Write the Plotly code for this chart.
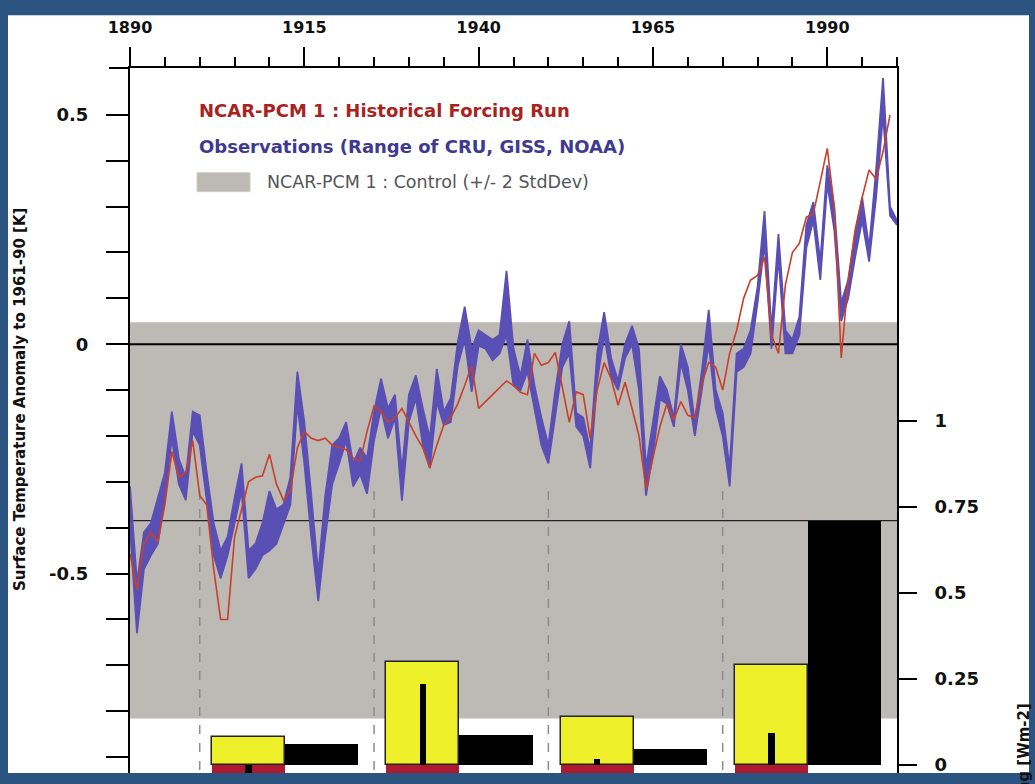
import plotly.graph_objects as go

# ---------------- data ----------------
obs_years = list(range(1890, 2001))
obs_hi = [-0.31, -0.52, -0.41, -0.39, -0.335, -0.28, -0.147, -0.25, -0.29, -0.147,
          -0.155, -0.28, -0.39, -0.45, -0.42, -0.335, -0.26, -0.45, -0.435, -0.39,
          -0.32, -0.36, -0.35, -0.29, -0.06, -0.17, -0.33, -0.50, -0.33, -0.22,
          -0.205, -0.17, -0.26, -0.226, -0.248, -0.147, -0.075, -0.14, -0.11, -0.277,
          -0.11, -0.068, -0.14, -0.205, -0.054, -0.147, -0.118, 0.004, 0.082, -0.011,
          0.03, 0.02, 0.01, 0.02, 0.16, -0.01, -0.07, 0.01, -0.09, -0.16,
          -0.22, -0.10, 0.0, 0.05, -0.15, -0.16, -0.23, -0.02, 0.07, -0.03,
          -0.08, 0.0, 0.04, -0.01, -0.27, -0.17, -0.07, -0.10, -0.16, 0.0,
          -0.05, -0.17, -0.06, 0.075, -0.10, -0.15, -0.27, -0.02, -0.01, 0.03,
          0.125, 0.29, 0.03, 0.24, 0.03, 0.01, 0.06, 0.26, 0.31, 0.18,
          0.39, 0.30, 0.09, 0.14, 0.24, 0.32, 0.21, 0.38, 0.58, 0.30, 0.27]
obs_lo = [-0.40, -0.63, -0.49, -0.46, -0.435, -0.335, -0.205, -0.305, -0.34, -0.19,
          -0.22, -0.335, -0.46, -0.51, -0.46, -0.39, -0.32, -0.51, -0.49, -0.46,
          -0.45, -0.435, -0.39, -0.35, -0.13, -0.26, -0.42, -0.56, -0.42, -0.305,
          -0.26, -0.21, -0.31, -0.283, -0.326, -0.21, -0.14, -0.205, -0.16, -0.341,
          -0.169, -0.118, -0.22, -0.27, -0.126, -0.176, -0.17, -0.047, 0.01, -0.104,
          -0.003, -0.01, -0.035, -0.02, 0.02, -0.09, -0.10, -0.06, -0.14, -0.22,
          -0.26, -0.15, -0.05, -0.02, -0.18, -0.20, -0.27, -0.08, 0.02, -0.07,
          -0.10, -0.03, 0.0, -0.10, -0.33, -0.24, -0.12, -0.13, -0.18, -0.04,
          -0.10, -0.20, -0.10, 0.0, -0.14, -0.20, -0.31, -0.06, -0.05, -0.02,
          0.09, 0.22, -0.01, 0.19, -0.02, -0.02, 0.02, 0.21, 0.27, 0.14,
          0.35, 0.25, 0.05, 0.10, 0.19, 0.27, 0.18, 0.32, 0.50, 0.28, 0.26]

model_years = list(range(1890, 2000))
model_run = [-0.456, -0.535, -0.435, -0.41, -0.43, -0.35, -0.234, -0.29, -0.28, -0.21,
             -0.33, -0.35, -0.49, -0.60, -0.60, -0.42, -0.36, -0.30, -0.29, -0.287,
             -0.24, -0.305, -0.34, -0.32, -0.226, -0.19, -0.205, -0.21, -0.205, -0.22,
             -0.225, -0.23, -0.248, -0.255, -0.19, -0.135, -0.147, -0.17, -0.16, -0.14,
             -0.17, -0.20, -0.226, -0.27, -0.22, -0.176, -0.16, -0.13, -0.09, -0.047,
             -0.14, -0.126, -0.11, -0.095, -0.08, -0.09, -0.105, -0.11, -0.02, -0.046,
             -0.04, -0.018, -0.097, -0.17, -0.104, -0.11, -0.205, -0.10, -0.04, -0.075,
             -0.133, -0.083, -0.14, -0.20, -0.315, -0.25, -0.18, -0.13, -0.165, -0.125,
             -0.155, -0.16, -0.085, -0.04, -0.05, -0.10, -0.02, 0.03, 0.10, 0.14,
             0.15, 0.19, 0.02, -0.02, 0.13, 0.20, 0.22, 0.277, 0.284, 0.355,
             0.427, 0.30, -0.03, 0.14, 0.25, 0.32, 0.38, 0.36, 0.42, 0.50]

control_low, control_high = -0.816, 0.048

period_starts = [1900, 1925, 1950, 1975]
forcing_yellow = [0.08, 0.299, 0.139, 0.289]
forcing_thin = [-0.05, 0.234, 0.017, 0.093]
forcing_red = [-0.10, -0.10, -0.10, -0.10]
forcing_black = [0.059, 0.086, 0.046, 0.709]

x_ticks = [1890, 1915, 1940, 1965, 1990]
y_left_ticks = [-0.9, -0.8, -0.7, -0.6, -0.5, -0.4, -0.3, -0.2, -0.1, 0.0, 0.1, 0.2, 0.3, 0.4, 0.5]
y_left_labels = ["", "", "", "", "-0.5", "", "", "", "", "0", "", "", "", "", "0.5"]
y_right_ticks = [0, 0.25, 0.5, 0.75, 1]
y_right_labels = ["0", "0.25", "0.5", "0.75", "1"]

# ---------------- styling ----------------
W, H = 1035, 784
L, R, T, B = 130, 897, 68, 775
BLUE_BG = "#2c5480"
GREY = "#bdb9b5"
OBS_C = "#5a4fb4"
RED_C = "#c8402a"
FONT = "DejaVu Sans"

def px(xp):
    return (xp - L) / (R - L)

def py(yp):
    return (B - yp) / (B - T)

yellow_x = [p + 7 for p in period_starts]
black_x = [p + 17.5 for p in period_starts]
bw = 10.5

fig = go.Figure()

# observation band
fig.add_trace(go.Scatter(x=obs_years, y=obs_lo, mode="lines",
                         line=dict(color=OBS_C, width=1.8), hoverinfo="skip"))
fig.add_trace(go.Scatter(x=obs_years, y=obs_hi, mode="lines", fill="tonexty",
                         fillcolor=OBS_C, line=dict(color=OBS_C, width=1.8)))
# model run
fig.add_trace(go.Scatter(x=model_years, y=model_run, mode="lines",
                         line=dict(color=RED_C, width=1.6)))

# forcing bars (right axis)
fig.add_trace(go.Bar(x=yellow_x, y=forcing_red, width=bw, yaxis="y2",
                     marker=dict(color="#b01a30", line=dict(width=0))))
fig.add_trace(go.Bar(x=yellow_x, y=forcing_yellow, width=bw, yaxis="y2",
                     marker=dict(color="#eef02a", line=dict(color="#222", width=1.5))))
fig.add_trace(go.Bar(x=yellow_x, y=forcing_thin, width=0.9, yaxis="y2",
                     marker=dict(color="black", line=dict(width=0))))
fig.add_trace(go.Bar(x=black_x, y=forcing_black, width=bw, yaxis="y2",
                     marker=dict(color="black", line=dict(width=0))))

ylo, yhi = -(B - 345) / 460, (345 - T) / 460
y2lo, y2hi = -(B - 766.5) / 345, (766.5 - T) / 345

shapes = [
    dict(type="rect", xref="paper", yref="paper", x0=px(8), x1=px(1029), y0=0, y1=py(15),
         fillcolor="white", line=dict(width=0), layer="below"),
    dict(type="rect", xref="x", yref="y", x0=1890, x1=2000, y0=control_low, y1=control_high,
         fillcolor=GREY, line=dict(width=0), layer="below"),
]
for p in period_starts:
    shapes.append(dict(type="line", xref="x", yref="y", x0=p, x1=p, y0=-0.32, y1=ylo,
                       line=dict(color="#8c8c8c", width=1.5, dash="dash"), layer="below"))
shapes += [
    dict(type="line", xref="x", yref="y", x0=1890, x1=2000, y0=0, y1=0,
         line=dict(color="black", width=2), layer="below"),
    dict(type="line", xref="x", yref="y2", x0=1890, x1=2000, y0=0.709, y1=0.709,
         line=dict(color="#222", width=1.2), layer="below"),
    dict(type="rect", xref="paper", yref="paper", x0=px(197), x1=px(250), y0=py(192), y1=py(173),
         fillcolor=GREY, line=dict(color="#cfcbc7", width=1)),
    dict(type="line", xref="paper", yref="paper", x0=px(109), x1=0, y0=1, y1=1,
         line=dict(color="black", width=2)),
]

annotations = [
    dict(text="NCAR-PCM 1 : Historical Forcing Run", xref="paper", yref="paper",
         x=px(197), y=py(111), xanchor="left", yanchor="middle", showarrow=False,
         font=dict(family=FONT, size=18, weight="bold", color="#a8231e")),
    dict(text="Observations (Range of CRU, GISS, NOAA)", xref="paper", yref="paper",
         x=px(197), y=py(147), xanchor="left", yanchor="middle", showarrow=False,
         font=dict(family=FONT, size=18, weight="bold", color="#3e3a92")),
    dict(text="NCAR-PCM 1 : Control (+/- 2 StdDev)", xref="paper", yref="paper",
         x=px(265), y=py(182), xanchor="left", yanchor="middle", showarrow=False,
         font=dict(family=FONT, size=17.5, color="#555555")),
    dict(text="Surface Temperature Anomaly to 1961-90 [K]", xref="paper", yref="paper",
         x=px(20), y=py(400), xanchor="center", yanchor="middle", showarrow=False,
         textangle=-90, font=dict(family=FONT, size=15, weight="bold", color="#111")),
    dict(text="Forcing [Wm-2]", xref="paper", yref="paper",
         x=px(1024), y=py(703), xanchor="center", yanchor="top", showarrow=False,
         textangle=-90, font=dict(family=FONT, size=15, weight="bold", color="#111")),
]

xtickfont = dict(family=FONT, size=16, weight="bold", color="#111")
ytickfont = dict(family=FONT, size=18, weight="bold", color="#111")
fig.update_layout(
    width=W, height=H,
    margin=dict(l=L, r=W - R, t=T, b=H - B, pad=0),
    paper_bgcolor=BLUE_BG, plot_bgcolor="white",
    showlegend=False, barmode="overlay", bargap=0,
    shapes=shapes, annotations=annotations,
    xaxis=dict(range=[1890, 2000], side="top", tickmode="linear", tick0=1890, dtick=25,
               ticks="outside", ticklen=19, tickwidth=2, tickcolor="black",
               minor=dict(dtick=5, tick0=1890, ticks="outside", ticklen=9, tickwidth=1.5,
                          tickcolor="black"),
               showline=True, linecolor="black", linewidth=2, showgrid=False,
               zeroline=False, tickfont=xtickfont, ticklabelstandoff=8),
    yaxis=dict(range=[ylo, yhi], tickmode="array", tickvals=y_left_ticks,
               ticktext=y_left_labels, ticks="outside", ticklen=22, tickwidth=2,
               tickcolor="black", showline=True, linecolor="black", linewidth=2,
               showgrid=False, zeroline=False, tickfont=ytickfont, ticklabelstandoff=14),
    yaxis2=dict(range=[y2lo, y2hi], overlaying="y", side="right", tickmode="array",
                tickvals=y_right_ticks, ticktext=y_right_labels, ticks="outside",
                ticklen=18, tickwidth=2, tickcolor="black", showline=True,
                linecolor="black", linewidth=2, showgrid=False, zeroline=False,
                tickfont=ytickfont, ticklabelstandoff=14),
)

fig.write_html("out.html",
               config={"displayModeBar": False},
               post_script="document.body.style.margin='0px';"
                           "document.body.style.background='" + BLUE_BG + "';")
